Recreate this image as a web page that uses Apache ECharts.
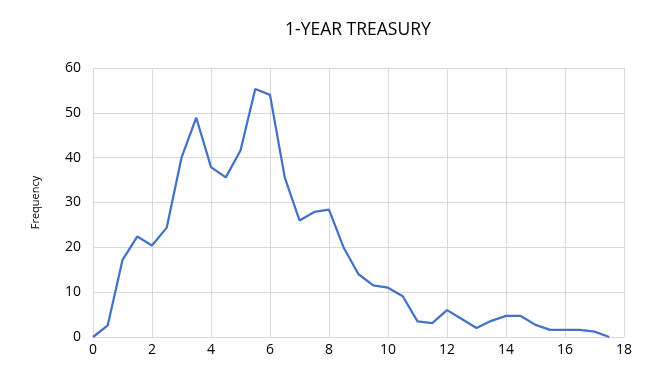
<!DOCTYPE html>
<html><head><meta charset="utf-8">
<script src="https://cdn.jsdelivr.net/npm/echarts@6/dist/echarts.min.js"></script>
<style>html,body{margin:0;padding:0;background:#fff}#c{width:656px;height:391px}</style>
</head><body><div id="c"></div>
<script>
const xValues = [0,0.5,1,1.5,2,2.5,3,3.5,4,4.5,5,5.5,6,6.5,7,7.5,8,8.5,9,9.5,10,10.5,11,11.5,12,12.5,13,13.5,14,14.5,15,15.5,16,16.5,17,17.5];
const frequency = [0,2.6,17.2,22.4,20.4,24.4,40,48.9,37.9,35.6,41.6,55.3,54,35.6,26,27.9,28.4,19.9,14,11.5,11,9.1,3.5,3.1,6,4,2,3.6,4.7,4.7,2.7,1.6,1.6,1.6,1.2,0];
const titleText = '1-YEAR TREASURY';
const yName = 'Frequency';

const chart = echarts.init(document.getElementById('c'), null, {renderer:'canvas'});
const font = 'Open Sans, Noto Sans, sans-serif';
chart.setOption({
  animation:false,
  title:{text:titleText,left:280,top:16,textStyle:{fontFamily:font,fontSize:17.5,fontWeight:'normal',color:'#000'}},
  grid:{left:93,right:32,top:68,bottom:54,containLabel:false},
  xAxis:{type:'value',min:0,max:18,interval:2,
    axisLine:{show:false},axisTick:{show:false},
    axisLabel:{color:'#000',fontFamily:font,fontSize:14,margin:6},
    splitLine:{show:true,lineStyle:{color:'#d9d9d9',width:1}}},
  yAxis:{type:'value',min:0,max:60,interval:10,name:yName,nameLocation:'middle',nameGap:52,
    nameTextStyle:{color:'#000',fontFamily:font,fontSize:11},
    axisLine:{show:false},axisTick:{show:false},
    axisLabel:{color:'#000',fontFamily:font,fontSize:14,margin:12},
    splitLine:{show:true,lineStyle:{color:'#d9d9d9',width:1}}},
  series:[{type:'line',data:xValues.map((x,i)=>[x,frequency[i]]),symbol:'none',
    lineStyle:{color:'#4472c4',width:2.25},itemStyle:{color:'#4472c4'}}]
});
</script></body></html>
